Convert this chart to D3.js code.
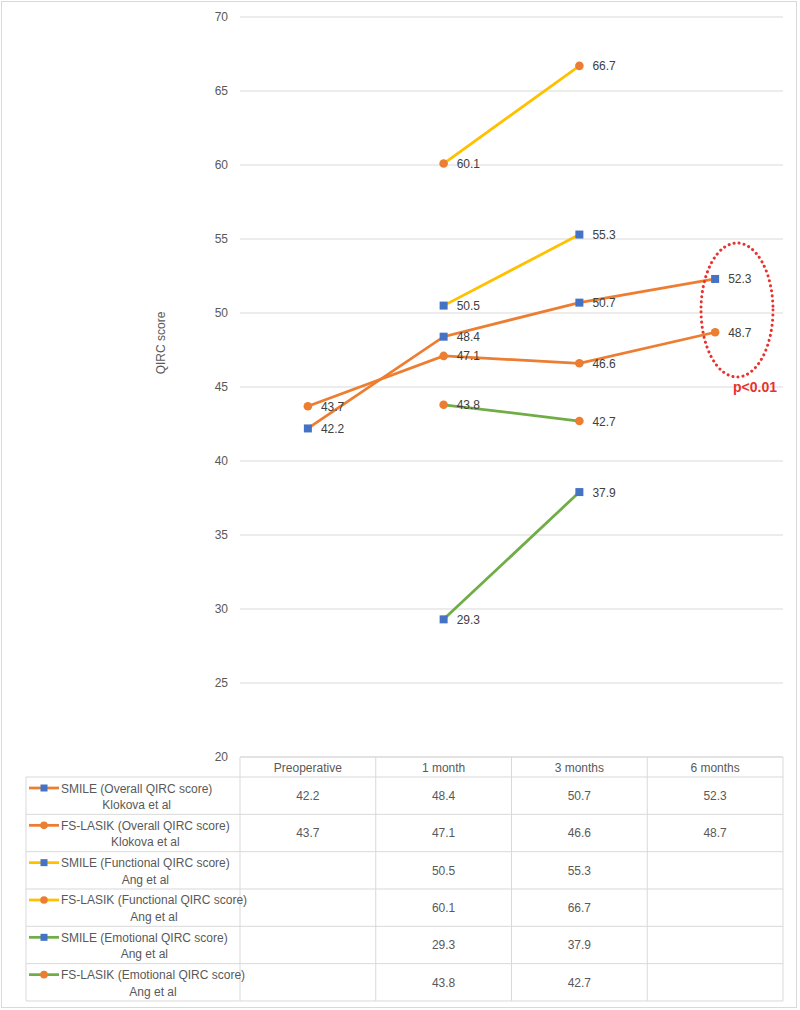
<!DOCTYPE html>
<html><head><meta charset="utf-8">
<script src="https://cdn.jsdelivr.net/npm/d3@7"></script>
<style>body{margin:0;background:#fff;} text{font-family:"Liberation Sans",Arial,sans-serif;}</style>
</head><body><svg id="c" width="800" height="1010"></svg>
<script>
const categories = ["Preoperative", "1 month", "3 months", "6 months"];
const seriesLine1 = ["SMILE (Overall QIRC score)", "FS-LASIK (Overall QIRC score)", "SMILE (Functional QIRC score)", "FS-LASIK (Functional QIRC score)", "SMILE (Emotional QIRC score)", "FS-LASIK (Emotional QIRC score)"];
const seriesLine2 = ["Klokova et al", "Klokova et al", "Ang et al", "Ang et al", "Ang et al", "Ang et al"];
const smileOverall = [42.2, 48.4, 50.7, 52.3];
const lasikOverall = [43.7, 47.1, 46.6, 48.7];
const smileFunctional = [null, 50.5, 55.3, null];
const lasikFunctional = [null, 60.1, 66.7, null];
const smileEmotional = [null, 29.3, 37.9, null];
const lasikEmotional = [null, 43.8, 42.7, null];
const yTicks = [20, 25, 30, 35, 40, 45, 50, 55, 60, 65, 70];
const annotation = "p<0.01";
const axisTitle = "QIRC score";

const seriesValues = [smileOverall, lasikOverall, smileFunctional, lasikFunctional, smileEmotional, lasikEmotional];
const lineColors = ["#ED7D31", "#ED7D31", "#FFC000", "#FFC000", "#70AD47", "#70AD47"];
const markerShapes = ["square", "circle", "square", "circle", "square", "circle"];
const markerColors = {square: "#4472C4", circle: "#ED7D31"};

const svg = d3.select("#c");
const textCol = "#595959";
const gridCol = "#d9d9d9";

// outer border
svg.append("rect").attr("x", 1.5).attr("y", 1.5).attr("width", 795).attr("height", 1006)
  .attr("fill", "none").attr("stroke", "#d9d9d9").attr("stroke-width", 1);

const x = d3.scaleBand().domain(categories).range([240, 783]).padding(0);
const xc = c => x(c) + x.bandwidth() / 2;
const y = d3.scaleLinear().domain([20, 70]).range([757, 17]);

// gridlines
svg.append("g").selectAll("line").data(yTicks).join("line")
  .attr("x1", 240).attr("x2", 783).attr("y1", d => y(d)).attr("y2", d => y(d))
  .attr("stroke", gridCol).attr("stroke-width", 1);

// y axis tick labels
const yAxis = d3.axisLeft(y).tickValues(yTicks).tickSize(0).tickPadding(0);
const gy = svg.append("g").attr("transform", "translate(228,0)").call(yAxis);
gy.select(".domain").remove();
gy.selectAll("text").attr("fill", textCol).style("font-size", "12px").style("font-family", "Liberation Sans, Arial, sans-serif");

// axis title
svg.append("text").attr("transform", "translate(165,343) rotate(-90)").attr("text-anchor", "middle")
  .attr("fill", textCol).style("font-size", "12px").text(axisTitle);

// lines
const line = d3.line().defined(d => d.v != null).x(d => xc(d.c)).y(d => y(d.v));
seriesValues.forEach((vals, i) => {
  const pts = vals.map((v, j) => ({c: categories[j], v}));
  svg.append("path").datum(pts).attr("d", line).attr("fill", "none")
    .attr("stroke", lineColors[i]).attr("stroke-width", 2.75).attr("stroke-linecap", "round");
});

function marker(g, shape, cx, cy, s) {
  if (shape === "square") {
    g.append("rect").attr("x", cx - s / 2).attr("y", cy - s / 2).attr("width", s).attr("height", s).attr("fill", markerColors.square);
  } else {
    g.append("circle").attr("cx", cx).attr("cy", cy).attr("r", s / 2 + 0.3).attr("fill", markerColors.circle);
  }
}

// markers + labels
seriesValues.forEach((vals, i) => {
  const g = svg.append("g");
  vals.forEach((v, j) => {
    if (v == null) return;
    const cx = xc(categories[j]), cy = y(v);
    marker(g, markerShapes[i], cx, cy, 8);
    g.append("text").attr("x", cx + 13).attr("y", cy + 4.5).attr("fill", "#404040")
      .style("font-size", "12px").text(v.toFixed(1));
  });
});

// annotation ellipse
svg.append("ellipse").attr("cx", 737).attr("cy", 310).attr("rx", 36).attr("ry", 67)
  .attr("fill", "none").attr("stroke", "#E8322E").attr("stroke-width", 3)
  .attr("stroke-dasharray", "0.1 5").attr("stroke-linecap", "round");
svg.append("text").attr("x", 733).attr("y", 392).attr("fill", "#E8322E")
  .style("font-size", "14px").style("font-weight", "bold").text(annotation);

// data table
const tableTop = 757, headH = 20, rowH = 37.33, legL = 26;
const tg = svg.append("g");
const nRows = seriesValues.length;
const tableBottom = tableTop + headH + nRows * rowH;
// horizontal lines
tg.append("line").attr("x1", 240).attr("x2", 783).attr("y1", tableTop).attr("y2", tableTop).attr("stroke", gridCol);
for (let r = 0; r <= nRows; r++) {
  const yy = tableTop + headH + r * rowH;
  tg.append("line").attr("x1", legL).attr("x2", 783).attr("y1", yy).attr("y2", yy).attr("stroke", gridCol);
}
// vertical lines
tg.append("line").attr("x1", legL).attr("x2", legL).attr("y1", tableTop + headH).attr("y2", tableBottom).attr("stroke", gridCol);
categories.forEach(c => {
  tg.append("line").attr("x1", x(c)).attr("x2", x(c)).attr("y1", tableTop).attr("y2", tableBottom).attr("stroke", gridCol);
});
tg.append("line").attr("x1", 783).attr("x2", 783).attr("y1", tableTop).attr("y2", tableBottom).attr("stroke", gridCol);

// header
categories.forEach(c => {
  tg.append("text").attr("x", xc(c)).attr("y", tableTop + 14.5).attr("text-anchor", "middle")
    .attr("fill", textCol).style("font-size", "12px").text(c);
});
// rows
seriesValues.forEach((vals, i) => {
  const top = tableTop + headH + i * rowH;
  vals.forEach((v, j) => {
    if (v == null) return;
    tg.append("text").attr("x", xc(categories[j])).attr("y", top + rowH / 2 + 4.5).attr("text-anchor", "middle")
      .attr("fill", textCol).style("font-size", "12px").text(v.toFixed(1));
  });
  // legend key
  const ky = top + 11;
  tg.append("line").attr("x1", 29).attr("x2", 59).attr("y1", ky).attr("y2", ky)
    .attr("stroke", lineColors[i]).attr("stroke-width", 2.75);
  marker(tg, markerShapes[i], 44, ky, 7);
  const t1 = tg.append("text").attr("x", 61).attr("y", ky + 4.5).attr("fill", textCol)
    .style("font-size", "12px").text(seriesLine1[i]);
  const w = t1.node().getComputedTextLength();
  tg.append("text").attr("x", 61 + w / 2).attr("y", ky + 21).attr("text-anchor", "middle")
    .attr("fill", textCol).style("font-size", "12px").text(seriesLine2[i]);
});
</script></body></html>
